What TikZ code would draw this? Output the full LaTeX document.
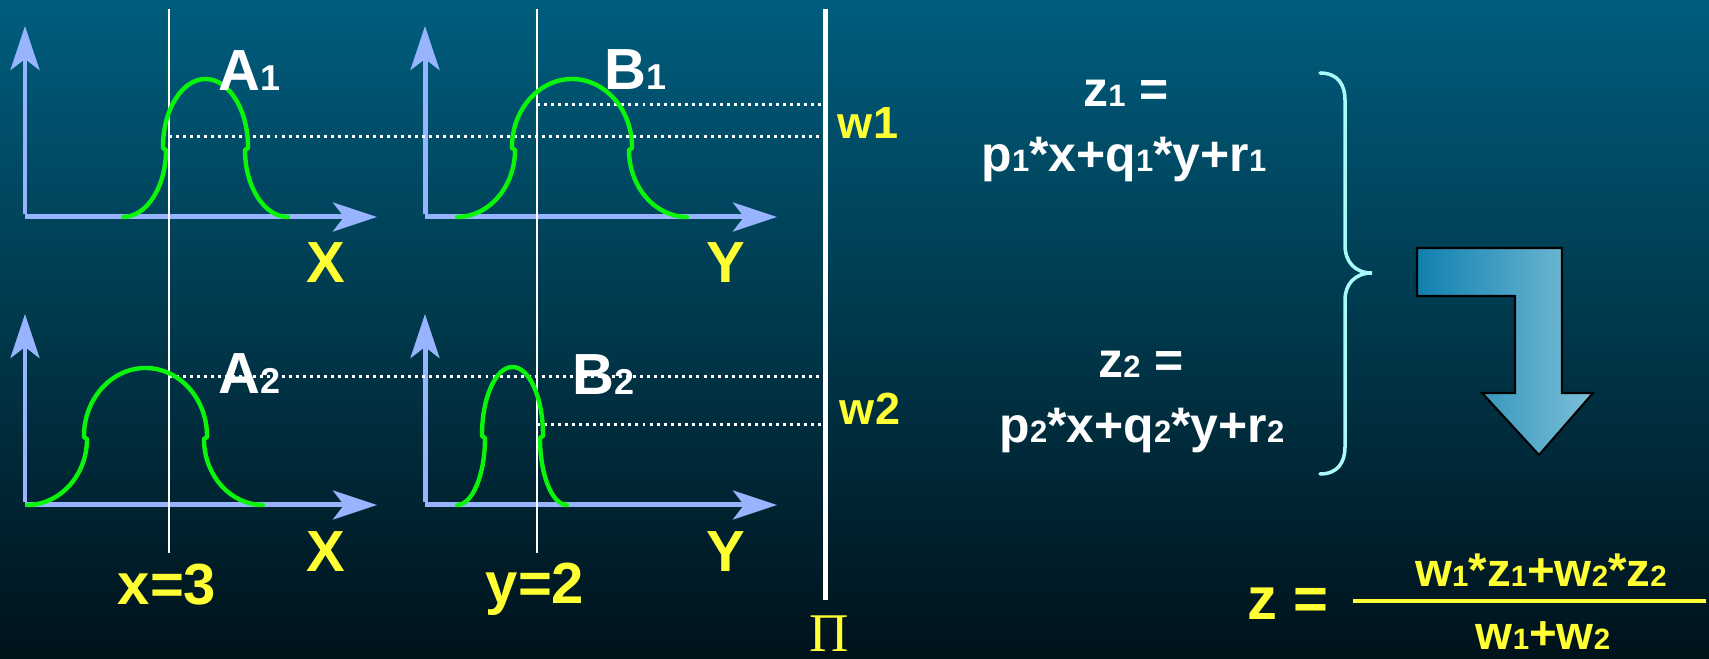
\documentclass[tikz,border=0pt]{standalone}
\usepackage{fontspec}
\setmainfont{Liberation Sans}
\newfontfamily\serifpi{Liberation Serif}
\usepackage{graphicx}
\usetikzlibrary{arrows.meta}

\definecolor{bgtop}{RGB}{0,93,125}
\definecolor{bgbot}{RGB}{0,18,26}
\definecolor{axisblue}{RGB}{153,180,255}
\definecolor{bellgreen}{RGB}{10,245,10}
\definecolor{labyellow}{RGB}{255,255,51}
\definecolor{bracecyan}{RGB}{170,250,250}
\definecolor{arrowL}{RGB}{16,128,176}
\definecolor{arrowR}{RGB}{124,192,215}

\newcommand\sbd[1]{\scalebox{0.62}{#1}}
\newcommand\fsz[1]{\fontsize{#1}{#1}\selectfont\bfseries}

% #1 start x, #2 upper-left x, #3 upper-right x, #4 end x, #5 base y, #6 junction y, #7 peak y
\newcommand\bellcurve[7]{%
 \draw[bell] (#1,#5) .. controls ({#1+0.55*(#2+3-#1)},#5) and ({#2+3},{#6+3+0.55*(#5-#6-3)}) .. ({#2+3},{#6+3})
 -- (#2,{#6+1}) -- (#2,#6)
 .. controls (#2,{#6-0.55*(#6-#7)}) and ({(#2+#3)/2-0.55*(#3-#2)/2},#7) .. ({(#2+#3)/2},#7)
 .. controls ({(#2+#3)/2+0.55*(#3-#2)/2},#7) and (#3,{#6-0.55*(#6-#7)}) .. (#3,#6)
 -- (#3,{#6+1}) -- ({#3-3},{#6+3})
 .. controls ({#3-3},{#6+3+0.55*(#5-#6-3)}) and ({#4-0.55*(#4-#3+3)},#5) .. (#4,#5);}

\begin{document}
\begin{tikzpicture}[x=0.01cm,y=-0.01cm,
  axis/.style={draw=axisblue,line width=1.42pt,-{Stealth[length=0.44cm,width=0.29cm,inset=0.11cm]}},
  bell/.style={draw=bellgreen,line width=1.25pt,line cap=round,line join=round},
  guide/.style={draw=white,line width=0.6pt},
  piline/.style={draw=white,line width=1.42pt},
  dots/.style={draw=white,line width=0.85pt,dash pattern=on 0.85pt off 1.15pt},
  wlab/.style={inner sep=0pt,text=white,font=\fsz{16.5pt}},
  ylab/.style={inner sep=0pt,text=labyellow,font=\fsz{16.5pt}},
  wlsmall/.style={inner sep=0pt,text=labyellow,font=\fsz{12.8pt}},
  eqtext/.style={inner sep=0pt,text=white,font=\fsz{14.2pt}},
  fractext/.style={inner sep=0pt,text=labyellow,font=\fsz{13.5pt}},
  bracestyle/.style={draw=bracecyan,line width=1pt,line cap=round},
  fracbar/.style={draw=labyellow,line width=1.14pt}
]
% background
\shade[top color=bgtop,bottom color=bgbot] (0,0) rectangle (1709,659);
\useasboundingbox (0,0) rectangle (1709,659);

% axes
\foreach \ox/\oy/\n in {25/217/a1,425/217/b1,25/505/a2,425/505/b2}{
  \coordinate (o\n) at (\ox,\oy);
  \coordinate (v\n) at (\ox,{\oy-191});
  \coordinate (h\n) at ({\ox+352},\oy);
  \draw[axis] ([yshift=0.03cm]o\n) -- (v\n);
  \draw[axis] (o\n) -- (h\n);
}

% vertical guide lines
\coordinate (gx1t) at (169,9);   \coordinate (gx1b) at (169,553);
\coordinate (gy1t) at (537,9);   \coordinate (gy1b) at (537,553);
\coordinate (pit) at (825.5,9);  \coordinate (pib) at (825.5,600);
\draw[guide] (gx1t) -- (gx1b);
\draw[guide] (gy1t) -- (gy1b);
\draw[piline] (pit) -- (pib);

% dotted level lines
\coordinate (d1s) at (169,137); \coordinate (d1e) at (823,137);
\coordinate (d2s) at (537,105); \coordinate (d2e) at (823,105);
\coordinate (d3s) at (169,377); \coordinate (d3e) at (823,377);
\coordinate (d4s) at (537,425); \coordinate (d4e) at (823,425);
\draw[dots] (d1s) -- (d1e);
\draw[dots] (d2s) -- (d2e);
\draw[dots] (d3s) -- (d3e);
\draw[dots] (d4s) -- (d4e);

% membership functions
\bellcurve{123}{163}{248}{288}{217}{147}{79}
\bellcurve{457}{512}{632}{687}{217}{147}{79}
\bellcurve{27}{84}{207}{263}{505}{436}{368}
\bellcurve{457}{482}{543}{567}{505}{435}{367}

% labels
\node[wlab,anchor=base west] (A1) at (218,91) {A\sbd{1}};
\node[wlab,anchor=base west] (B1) at (604,90) {B\sbd{1}};
\node[wlab,anchor=base west] (A2) at (218,394) {A\sbd{2}};
\node[wlab,anchor=base west] (B2) at (572,395) {B\sbd{2}};
\node[ylab,anchor=base] (X1) at (326,283) {X};
\node[ylab,anchor=base] (Y1) at (726,283) {Y};
\node[ylab,anchor=base] (X2) at (326,572) {X};
\node[ylab,anchor=base] (Y2) at (726,572) {Y};
\node[ylab,anchor=base] (x3) at (167,605) {x=3};
\node[ylab,anchor=base] (y2) at (535,604) {y=2};
\node[wlsmall,anchor=base] (w1) at (868,139) {w1};
\node[wlsmall,anchor=base] (w2) at (870,425) {w2};
\node[inner sep=0pt,text=labyellow,font=\serifpi\fontsize{15.5pt}{15.5pt}\selectfont,anchor=base] (pi) at (829,652) {Π};

% rule equations
\node[eqtext,anchor=base] (z1) at (1126,107) {z\sbd{1} =};
\node[eqtext,anchor=base] (e1) at (1124,172) {p\sbd{1}*x+q\sbd{1}*y+r\sbd{1}};
\node[eqtext,anchor=base] (z2) at (1141,378) {z\sbd{2} =};
\node[eqtext,anchor=base] (e2) at (1142,443) {p\sbd{2}*x+q\sbd{2}*y+r\sbd{2}};

% brace
\coordinate (brt) at (1320,73);
\coordinate (brtip) at (1372,273);
\coordinate (brb) at (1320,474);
\draw[bracestyle] (brt) .. controls (1338,73) and (1345,85) .. (1345,100) -- (1345,245)
  .. controls (1345,262) and (1355,273) .. (brtip)
  .. controls (1355,273) and (1345,284) .. (1345,300) -- (1345,447)
  .. controls (1345,462) and (1338,474) .. (brb);

% bent arrow
\shadedraw[left color=arrowL,right color=arrowR,draw=black,line width=0.6pt,line join=miter]
  (1417,248) -- (1562,248) -- (1562,393) -- (1593,393) -- (1539,455) -- (1482,393)
  -- (1515,393) -- (1515,296) -- (1417,296) -- cycle;

% final formula
\node[ylab,font=\fsz{17pt},anchor=base] (zf) at (1288,620) {z =};
\node[fractext,anchor=base] (num) at (1541,587) {w\sbd{1}*z\sbd{1}+w\sbd{2}*z\sbd{2}};
\node[fractext,anchor=base] (den) at (1543,650) {w\sbd{1}+w\sbd{2}};
\coordinate (fbl) at (1353,601);
\coordinate (fbr) at (1706,601);
\draw[fracbar] (fbl) -- (fbr);
\end{tikzpicture}
\end{document}
